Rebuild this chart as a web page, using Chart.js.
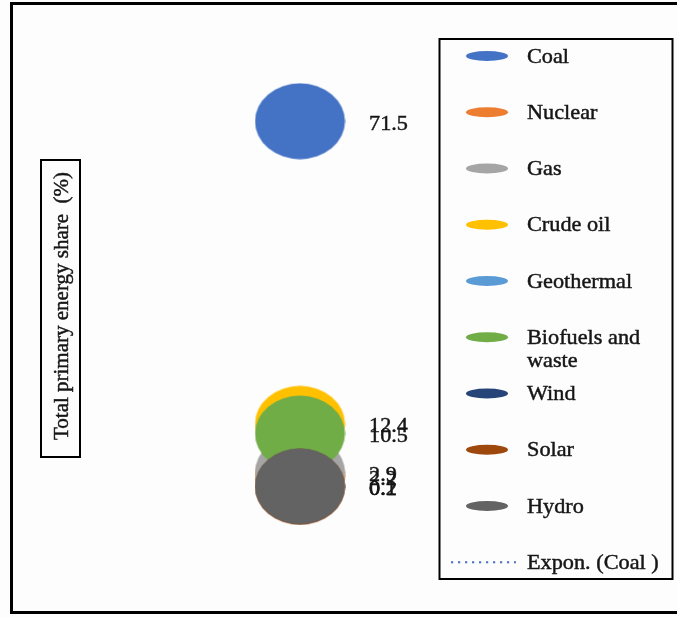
<!DOCTYPE html>
<html>
<head>
<meta charset="utf-8">
<script src="https://cdn.jsdelivr.net/npm/chart.js@4"></script>
<style>
  html, body { margin: 0; padding: 0; background: #fdfdfd; }
  #wrap { width: 677px; height: 617px; }
</style>
</head>
<body>
<div id="wrap"><canvas id="c" width="677" height="617"></canvas></div>
<script>
// ---- data ----
const categories = ['Coal', 'Nuclear', 'Gas', 'Crude oil', 'Geothermal', 'Biofuels and waste', 'Wind', 'Solar', 'Hydro'];
const shares = [71.5, 2.2, 2.9, 12.4, null, 10.5, null, 0.1, 0.2];
const colors = ['#4472C4', '#ED7D31', '#A5A5A5', '#FFC000', '#5B9BD5', '#70AD47', '#264478', '#9E480E', '#636363'];
const legendLabels = [['Coal'], ['Nuclear'], ['Gas'], ['Crude oil'], ['Geothermal'], ['Biofuels and', 'waste'], ['Wind'], ['Solar'], ['Hydro']];
const trendLabel = 'Expon. (Coal )';
const yTitle = 'Total primary energy share  (%)';

const FONT = '"Liberation Serif", "Times New Roman", serif';
const TEXT_COLOR = '#161616';

function ellipseImage(color, w, h) {
  const cv = document.createElement('canvas');
  cv.width = w; cv.height = h;
  const g = cv.getContext('2d');
  g.fillStyle = color;
  g.beginPath();
  g.ellipse(w / 2, h / 2, w / 2 - 0.5, h / 2 - 0.5, 0, 0, Math.PI * 2);
  g.fill();
  return cv;
}

const datasets = categories.map((name, i) => ({
  label: name,
  data: shares[i] === null ? [] : [{ x: 1, y: shares[i], r: 40 }],
  backgroundColor: colors[i],
  borderColor: colors[i],
  pointStyle: ellipseImage(colors[i], 91, 77),
  order: categories.length - i,
  clip: false
}));

function drawScaledText(ctx, text, x, y, sx) {
  ctx.save();
  ctx.translate(x, y);
  ctx.scale(sx, 1);
  ctx.lineWidth = 0.45;
  ctx.strokeStyle = TEXT_COLOR;
  ctx.fillText(text, 0, 0);
  ctx.strokeText(text, 0, 0);
  ctx.restore();
}

const decor = {
  id: 'decor',
  beforeDraw(chart) {
    const ctx = chart.ctx;
    ctx.save();
    ctx.fillStyle = '#fdfdfd';
    ctx.fillRect(0, 0, chart.width, chart.height);
    // outer frame
    ctx.strokeStyle = '#000';
    ctx.lineWidth = 3;
    ctx.strokeRect(11.5, 3.5, 700, 609);
    // y title box
    ctx.lineWidth = 2;
    ctx.strokeRect(41, 160, 39, 297);
    ctx.fillStyle = TEXT_COLOR;
    ctx.font = '21px ' + FONT;
    ctx.textAlign = 'center';
    ctx.textBaseline = 'middle';
    ctx.translate(62, 306);
    ctx.rotate(-Math.PI / 2);
    drawScaledText(ctx, yTitle, 0, 0, 1.0);
    ctx.restore();
  },
  afterDatasetsDraw(chart) {
    const ctx = chart.ctx;
    ctx.save();
    ctx.fillStyle = TEXT_COLOR;
    ctx.font = '21px ' + FONT;
    ctx.textAlign = 'left';
    ctx.textBaseline = 'middle';
    chart.data.datasets.forEach((ds, i) => {
      const meta = chart.getDatasetMeta(i);
      if (!meta.data.length) return;
      const el = meta.data[0];
      drawScaledText(ctx, shares[i].toFixed(1), el.x + 69, el.y + 3, 1.06);
    });
    ctx.restore();
  },
  afterDraw(chart) {
    const ctx = chart.ctx;
    ctx.save();
    ctx.strokeStyle = '#000';
    ctx.lineWidth = 2;
    ctx.strokeRect(439.5, 39, 233, 540);
    ctx.font = '21px ' + FONT;
    ctx.textAlign = 'left';
    ctx.textBaseline = 'middle';
    const y0 = 56, step = 56.25;
    chart.data.datasets.forEach((ds, i) => {
      const y = y0 + i * step;
      ctx.fillStyle = ds.backgroundColor;
      ctx.beginPath();
      ctx.ellipse(487, y, 21, 5, 0, 0, Math.PI * 2);
      ctx.fill();
      ctx.fillStyle = TEXT_COLOR;
      legendLabels[i].forEach((line, k) => drawScaledText(ctx, line, 527, y + 1 + k * 23, 1.06));
    });
    const yt = y0 + categories.length * step;
    ctx.strokeStyle = '#4472C4';
    ctx.lineWidth = 2.2;
    ctx.setLineDash([2.2, 4.8]);
    ctx.beginPath();
    ctx.moveTo(451, yt);
    ctx.lineTo(516, yt);
    ctx.stroke();
    ctx.setLineDash([]);
    ctx.fillStyle = TEXT_COLOR;
    drawScaledText(ctx, trendLabel, 527, yt + 1, 1.06);
    ctx.restore();
  }
};

new Chart(document.getElementById('c'), {
  type: 'bubble',
  data: { datasets },
  options: {
    responsive: false,
    animation: false,
    layout: { padding: { left: 170, right: 247, top: 47, bottom: 58 } },
    plugins: { legend: { display: false }, tooltip: { enabled: false } },
    scales: {
      x: { type: 'linear', min: 0, max: 2, display: false },
      y: { type: 'linear', min: -14, max: 86, display: false }
    }
  },
  plugins: [decor]
});
</script>
</body>
</html>
